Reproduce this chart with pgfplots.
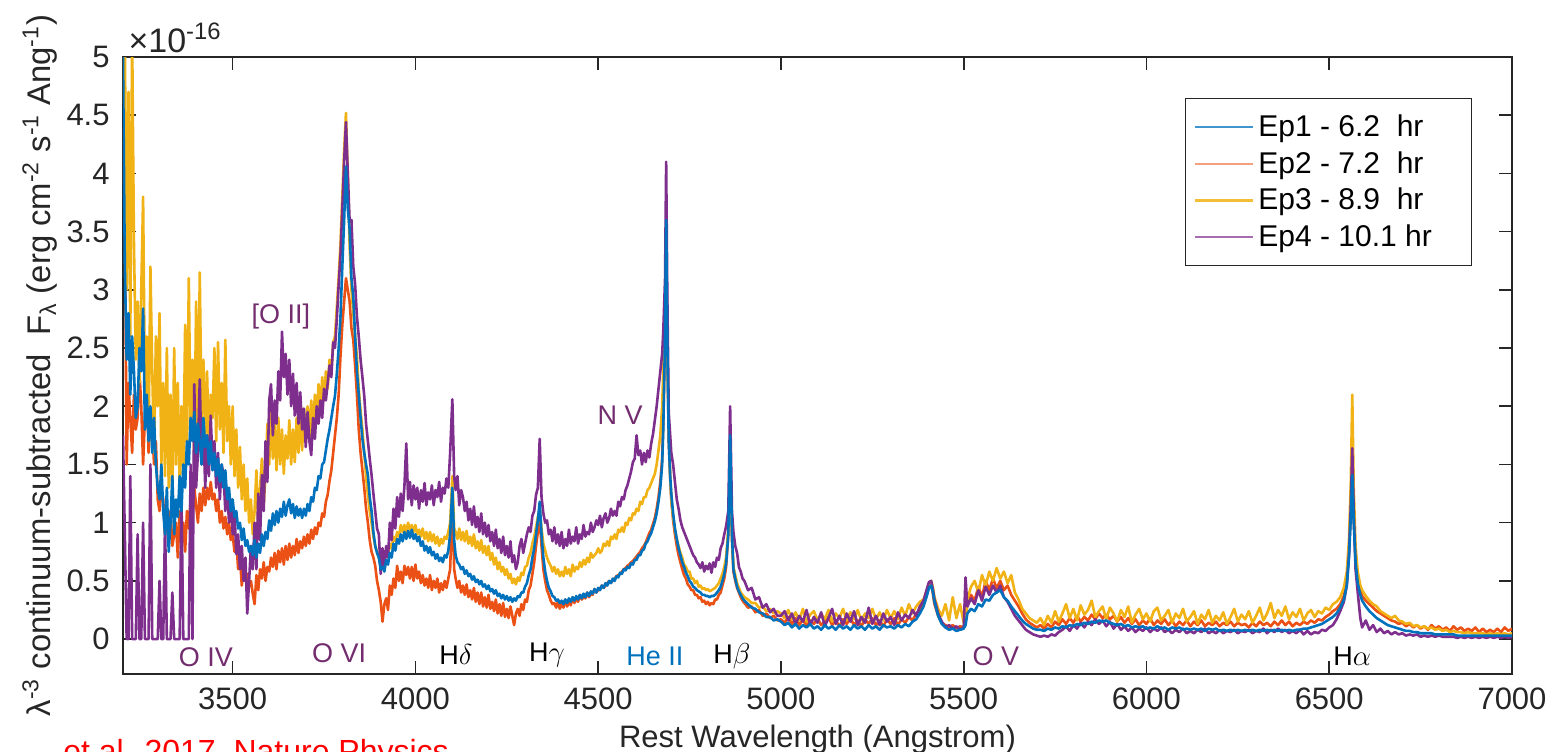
\documentclass[border=0pt]{standalone}
\usepackage{pgfplots}
\usepackage{pgfplotstable}
\usepackage{fontspec}
\setmainfont{Liberation Sans}
\pgfplotsset{compat=1.18}
\definecolor{cB}{RGB}{0,114,189}
\definecolor{cR}{RGB}{235,80,20}
\definecolor{cY}{RGB}{240,178,20}
\definecolor{cP}{RGB}{126,47,142}
\definecolor{annP}{RGB}{115,45,110}
\definecolor{axc}{RGB}{38,38,38}

\pgfplotstableread{
lam b r y p
3200 5.0 4.4 4.6 1.75
3205 3.2 3.7 5.2 0.9
3210 2.4 1.5 3.0 0.0
3215 2.8 2.2 4.7 0.0
3220 2.1 1.9 2.6 1.4
3225 2.6 1.6 5.2 0.0
3230 2.3 2.1 3.4 0.0
3235 1.9 1.8 2.4 0.0
3240 2.0 1.9 2.9 0.9
3245 2.5 2.3 2.2 0.0
3250 2.3 2.0 3.0 0.0
3255 2.84 1.5 3.8 1.0
3260 1.8 1.9 2.1 0.0
3265 2.1 2.2 2.6 0.0
3270 1.7 1.6 1.7 0.0
3275 2.0 1.9 3.2 1.5
3280 1.6 1.8 2.3 0.0
3285 1.9 1.5 1.6 0.0
3290 1.5 1.7 2.6 0.0
3295 1.3 1.2 2.0 0.0
3300 1.2 1.1 2.8 0.5
3305 1.5 1.3 1.5 0.0
3310 1.1 1.2 2.2 0.0
3315 0.9 0.9 1.4 1.0
3320 1.3 1.0 2.5 0.0
3325 0.75 0.9 1.3 0.0
3330 1.0 1.1 2.1 0.0
3335 1.4 0.8 1.2 0.4
3340 0.9 0.9 2.5 0.0
3345 1.2 1.0 1.5 0.0
3350 1.05 0.7 2.2 0.0
3355 1.4 1.1 1.3 0.0
3360 1.1 0.8 2.0 1.2
3365 1.5 1.0 1.4 0.0
3370 1.3 0.75 2.7 0.0
3375 1.7 1.1 1.6 0.0
3380 1.5 0.95 3.1 0.0
3385 1.9 1.2 1.8 1.5
3390 1.7 1.0 2.4 0.0
3395 1.95 1.3 1.5 2.19
3400 1.6 1.15 2.9 1.3
3405 1.85 1.0 1.7 1.6
3410 1.7 1.25 3.15 2.23
3415 1.5 1.1 1.9 1.5
3420 1.9 1.3 2.4 1.8
3425 1.65 1.15 1.7 1.3
3430 1.75 1.3 2.3 1.75
3435 1.5 1.2 1.6 1.4
3440 1.7 1.35 2.1 1.92
3445 1.45 1.2 1.9 1.5
3450 1.6 1.25 2.5 1.7
3455 1.4 1.1 1.7 1.3
3460 1.55 1.2 2.55 1.6
3465 1.35 1.0 1.8 1.2
3470 1.5 1.1 2.2 1.5
3475 1.3 0.95 1.6 1.41
3480 1.45 1.05 2.57 1.1
3485 1.2 0.9 1.7 1.3
3490 1.3 1.0 2.0 1.0
3495 1.1 0.85 1.5 1.2
3500 1.2 0.9 2.0 0.9
3505 1.05 0.75 1.4 1.1
3510 1.1 0.85 1.8 0.73
3515 0.95 0.6 1.3 0.9
3520 1.0 0.7 1.65 0.6
3525 0.85 0.46 1.2 0.8
3530 0.95 0.6 1.5 0.5
3535 0.8 0.5 1.1 0.7
3540 0.85 0.56 1.38 0.22
3545 0.75 0.45 1.0 0.5
3550 0.8 0.5 1.2 0.8
3555 0.72 0.39 0.9 0.6
3560 0.85 0.30 1.10 1.00
3565 0.70 0.55 1.45 0.60
3570 0.82 0.42 0.95 1.25
3575 0.74 0.60 1.30 0.85
3580 0.90 0.52 1.55 1.41
3585 0.80 0.66 1.15 1.10
3590 0.92 0.50 1.40 1.70
3595 0.86 0.62 1.85 1.35
3600 1.02 0.58 1.50 2.05
3605 0.93 0.70 1.95 2.19
3610 1.08 0.62 1.55 1.75
3615 0.98 0.74 1.85 2.05
3620 1.10 0.60 1.45 1.85
3625 1.00 0.76 1.90 2.30
3630 1.12 0.66 1.50 2.05
3635 1.05 0.78 1.80 2.64
3640 1.18 0.64 1.42 2.25
3645 1.06 0.80 1.75 2.45
3650 1.15 0.68 1.55 2.10
3655 1.20 0.82 1.88 2.40
3660 1.08 0.70 1.50 2.00
3665 1.16 0.80 1.80 2.28
3670 1.04 0.72 1.52 1.92
3675 1.14 0.86 1.90 2.20
3680 1.06 0.74 1.60 1.85
3685 1.12 0.84 1.95 2.12
3690 1.04 0.78 1.62 1.80
3695 1.12 0.88 1.98 1.98
3700 1.06 0.80 1.70 1.65
3705 1.16 0.90 2.00 1.95
3710 1.10 0.82 1.72 1.70
3715 1.22 0.94 2.05 1.58
3720 1.18 0.86 1.80 1.90
3725 1.30 0.96 2.10 1.72
3730 1.28 0.90 1.88 2.00
3735 1.40 1.00 2.19 1.85
3740 1.38 0.97 1.95 2.05
3745 1.50 1.08 2.25 1.90
3750 1.52 1.05 2.05 2.15
3755 1.62 1.18 2.30 2.05
3760 1.72 1.24 2.15 2.20
3765 1.80 1.36 2.40 2.35
3770 1.90 1.45 2.30 2.25
3775 2.00 1.60 2.55 2.55
3780 2.09 1.75 2.60 2.50
3785 2.28 1.90 2.85 2.75
3790 2.50 2.10 3.11 3.04
3795 2.77 2.43 3.40 3.30
3800 3.20 2.70 3.80 3.70
3805 3.60 2.90 4.20 4.10
3810 4.06 3.10 4.52 4.44
3815 3.70 3.00 4.00 4.00
3820 3.52 2.90 3.38 3.59
3825 3.10 2.67 3.00 3.60
3830 2.94 2.57 2.80 3.20
3835 2.60 2.35 2.60 3.05
3840 2.30 2.10 2.43 2.77
3845 2.10 1.80 2.15 2.60
3850 1.90 1.60 1.96 2.40
3855 1.72 1.45 1.80 2.25
3860 1.60 1.30 1.60 2.09
3865 1.50 1.12 1.40 1.85
3870 1.41 1.00 1.24 1.70
3875 1.22 0.85 1.10 1.55
3880 1.10 0.75 1.00 1.41
3885 0.92 0.70 0.88 1.25
3890 0.80 0.63 0.80 1.10
3895 0.74 0.50 0.75 0.95
3900 0.70 0.42 0.70 0.90
3905 0.60 0.32 0.63 0.56
3910 0.62 0.15 0.68 0.78
3915 0.58 0.30 0.72 0.62
3920 0.68 0.35 0.75 0.80
3925 0.64 0.25 0.70 0.70
3930 0.74 0.46 0.82 1.00
3935 0.70 0.38 0.78 0.85
3940 0.82 0.52 0.88 1.12
3945 0.76 0.44 0.84 0.95
3950 0.86 0.63 0.92 1.22
3955 0.82 0.50 0.88 1.05
3960 0.90 0.58 0.98 1.25
3965 0.84 0.48 0.92 1.10
3970 0.92 0.63 0.98 1.32
3975 0.86 0.55 0.92 1.68
3980 0.93 0.62 1.00 1.20
3985 0.87 0.52 0.94 1.35
3990 0.94 0.62 0.98 1.15
3995 0.86 0.50 0.92 1.32
4000 0.90 0.64 0.98 1.20
4005 0.84 0.52 0.90 1.30
4010 0.88 0.58 0.94 1.12
4015 0.80 0.48 0.88 1.28
4020 0.84 0.55 0.95 1.18
4025 0.76 0.46 0.86 1.34
4030 0.80 0.52 0.92 1.15
4035 0.74 0.44 0.84 1.26
4040 0.79 0.55 0.92 1.20
4045 0.72 0.42 0.84 1.32
4050 0.75 0.50 0.90 1.15
4055 0.69 0.44 0.82 1.28
4060 0.73 0.52 0.88 1.22
4065 0.67 0.40 0.80 1.35
4070 0.70 0.48 0.86 1.18
4075 0.66 0.42 0.82 1.30
4080 0.72 0.50 0.88 1.25
4085 0.70 0.44 0.86 1.38
4090 0.76 0.52 0.92 1.30
4095 0.90 0.60 1.00 1.60
4101 1.30 1.20 1.40 2.06
4106 0.85 0.60 0.95 1.40
4110 0.72 0.52 0.92 1.28
4115 0.66 0.44 0.86 1.40
4120 0.64 0.50 0.95 1.15
4125 0.60 0.40 0.85 1.28
4130 0.62 0.46 0.92 1.22
4135 0.56 0.38 0.84 1.10
4140 0.59 0.47 0.93 1.18
4145 0.54 0.36 0.82 1.02
4150 0.56 0.42 0.88 1.12
4155 0.51 0.34 0.80 0.98
4160 0.54 0.44 0.90 1.14
4165 0.49 0.32 0.78 0.96
4170 0.51 0.40 0.84 1.05
4175 0.47 0.30 0.76 0.92
4180 0.50 0.40 0.85 1.08
4185 0.45 0.28 0.74 0.90
4190 0.47 0.36 0.80 1.00
4195 0.43 0.27 0.72 0.88
4200 0.46 0.38 0.80 0.98
4205 0.41 0.26 0.68 0.84
4210 0.43 0.32 0.74 0.92
4215 0.39 0.24 0.64 0.80
4220 0.42 0.34 0.70 0.94
4225 0.37 0.22 0.60 0.78
4230 0.39 0.30 0.66 0.86
4235 0.35 0.20 0.58 0.74
4240 0.38 0.31 0.62 0.88
4245 0.34 0.19 0.55 0.72
4250 0.37 0.26 0.60 0.80
4255 0.33 0.18 0.52 0.70
4260 0.36 0.28 0.56 0.84
4265 0.32 0.20 0.48 0.66
4270 0.35 0.12 0.52 0.72
4275 0.33 0.22 0.47 0.60
4280 0.37 0.26 0.53 0.66
4285 0.36 0.20 0.50 0.80
4290 0.40 0.30 0.57 0.86
4295 0.40 0.25 0.55 0.74
4300 0.45 0.34 0.62 0.82
4305 0.48 0.32 0.63 0.90
4310 0.55 0.42 0.70 0.96
4315 0.60 0.46 0.74 0.92
4320 0.70 0.56 0.82 1.06
4325 0.78 0.66 0.88 1.10
4330 0.90 0.80 0.96 1.24
4335 1.02 0.92 1.05 1.30
4340 1.18 1.05 1.12 1.72
4345 0.90 0.80 0.95 1.22
4350 0.70 0.60 0.82 1.08
4355 0.58 0.50 0.76 1.00
4360 0.50 0.42 0.70 1.02
4365 0.44 0.38 0.66 0.90
4370 0.41 0.33 0.63 0.94
4375 0.37 0.30 0.58 0.84
4380 0.36 0.31 0.62 0.96
4385 0.33 0.27 0.56 0.82
4390 0.34 0.32 0.60 0.90
4395 0.31 0.26 0.54 0.80
4400 0.33 0.30 0.58 0.92
4405 0.30 0.27 0.54 0.78
4410 0.34 0.34 0.62 0.86
4415 0.31 0.28 0.56 0.80
4420 0.35 0.32 0.60 0.94
4425 0.32 0.29 0.54 0.82
4430 0.36 0.36 0.64 0.88
4435 0.33 0.31 0.58 0.84
4440 0.37 0.35 0.62 0.96
4445 0.34 0.32 0.60 0.82
4450 0.38 0.38 0.66 0.90
4455 0.35 0.34 0.62 0.86
4460 0.39 0.36 0.68 0.98
4465 0.36 0.35 0.64 0.88
4470 0.40 0.40 0.70 0.92
4475 0.37 0.36 0.66 0.90
4480 0.41 0.39 0.74 1.00
4485 0.39 0.38 0.70 0.92
4490 0.43 0.43 0.72 0.96
4495 0.40 0.40 0.74 1.02
4500 0.44 0.42 0.78 0.98
4505 0.42 0.43 0.74 1.06
4510 0.46 0.46 0.76 0.96
4515 0.44 0.44 0.82 1.04
4520 0.48 0.46 0.80 1.08
4525 0.46 0.48 0.84 1.00
4530 0.50 0.50 0.80 1.04
4535 0.48 0.49 0.88 1.12
4540 0.52 0.50 0.86 1.06
4545 0.50 0.52 0.90 1.10
4550 0.54 0.54 0.86 1.06
4555 0.53 0.55 0.94 1.18
4560 0.57 0.56 0.92 1.14
4565 0.56 0.58 0.96 1.22
4570 0.60 0.60 0.92 1.20
4575 0.59 0.61 1.00 1.28
4580 0.62 0.63 0.98 1.32
4585 0.61 0.64 1.04 1.38
4590 0.65 0.66 1.02 1.44
4595 0.64 0.67 1.08 1.52
4600 0.68 0.69 1.07 1.55
4605 0.68 0.71 1.12 1.75
4610 0.72 0.73 1.10 1.58
4615 0.72 0.75 1.18 1.62
4620 0.76 0.78 1.16 1.50
4625 0.77 0.80 1.22 1.60
4630 0.82 0.83 1.22 1.52
4635 0.84 0.87 1.28 1.62
4640 0.88 0.91 1.30 1.56
4645 0.91 0.94 1.34 1.68
4650 0.96 0.99 1.38 1.76
4655 1.01 1.04 1.42 1.88
4660 1.08 1.12 1.50 2.00
4665 1.18 1.22 1.62 2.15
4670 1.30 1.35 1.75 2.30
4675 1.50 1.55 2.00 2.45
4678 1.80 1.85 2.30 2.64
4683 2.60 2.60 2.90 3.10
4686 3.60 3.40 3.30 4.10
4689 2.60 2.50 2.60 3.00
4693 1.70 1.70 1.80 1.95
4697 1.40 1.38 1.40 1.75
4700 1.25 1.20 1.20 1.60
4705 1.08 1.02 1.05 1.50
4710 0.95 0.90 0.94 1.35
4715 0.86 0.80 0.86 1.20
4720 0.78 0.72 0.80 1.12
4725 0.72 0.66 0.74 1.02
4730 0.66 0.60 0.70 0.96
4735 0.62 0.55 0.64 0.92
4740 0.57 0.52 0.62 0.88
4745 0.54 0.47 0.58 0.84
4750 0.50 0.45 0.58 0.80
4755 0.48 0.42 0.52 0.76
4760 0.45 0.42 0.52 0.72
4765 0.44 0.38 0.48 0.70
4770 0.42 0.38 0.50 0.66
4775 0.41 0.35 0.45 0.64
4780 0.40 0.36 0.46 0.61
4785 0.38 0.32 0.43 0.66
4790 0.38 0.33 0.44 0.58
4795 0.37 0.30 0.42 0.63
4800 0.37 0.32 0.43 0.60
4805 0.36 0.29 0.41 0.65
4810 0.37 0.31 0.42 0.57
4815 0.37 0.30 0.43 0.66
4820 0.38 0.34 0.44 0.62
4825 0.40 0.34 0.46 0.70
4830 0.42 0.38 0.48 0.68
4835 0.45 0.40 0.52 0.78
4840 0.50 0.46 0.56 0.82
4845 0.56 0.52 0.62 0.90
4850 0.65 0.62 0.70 0.97
4856 0.90 0.90 0.95 1.10
4861 1.75 1.60 1.50 2.00
4866 0.90 0.85 0.90 1.10
4870 0.60 0.58 0.62 0.92
4875 0.52 0.50 0.55 0.80
4880 0.45 0.44 0.48 0.74
4885 0.41 0.40 0.44 0.62
4890 0.38 0.36 0.40 0.58
4895 0.35 0.33 0.38 0.52
4900 0.33 0.31 0.36 0.50
4910 0.30 0.27 0.34 0.42
4920 0.27 0.28 0.31 0.44
4930 0.26 0.23 0.31 0.34
4940 0.23 0.25 0.27 0.36
4950 0.22 0.20 0.28 0.27
4960 0.19 0.22 0.24 0.30
4970 0.19 0.18 0.26 0.23
4980 0.16 0.20 0.22 0.26
4990 0.17 0.16 0.24 0.20
5000 0.15 0.17 0.22 0.20
5010 0.12 0.14 0.18 0.24
5020 0.14 0.19 0.25 0.16
5030 0.10 0.13 0.17 0.22
5040 0.13 0.18 0.23 0.13
5050 0.09 0.12 0.16 0.20
5060 0.12 0.17 0.26 0.15
5070 0.10 0.11 0.15 0.25
5080 0.13 0.16 0.21 0.12
5090 0.09 0.13 0.24 0.19
5100 0.11 0.18 0.16 0.14
5110 0.08 0.12 0.22 0.23
5120 0.12 0.15 0.17 0.11
5130 0.09 0.19 0.25 0.18
5140 0.11 0.12 0.15 0.26
5150 0.08 0.16 0.22 0.13
5160 0.12 0.11 0.18 0.20
5170 0.09 0.17 0.26 0.12
5180 0.11 0.13 0.16 0.22
5190 0.08 0.18 0.23 0.15
5200 0.12 0.12 0.17 0.24
5210 0.09 0.16 0.25 0.12
5220 0.11 0.11 0.16 0.19
5230 0.08 0.17 0.22 0.14
5240 0.12 0.13 0.18 0.27
5250 0.09 0.18 0.26 0.13
5260 0.11 0.12 0.17 0.20
5270 0.08 0.16 0.23 0.12
5280 0.12 0.11 0.16 0.22
5290 0.10 0.17 0.25 0.15
5300 0.11 0.13 0.18 0.19
5310 0.09 0.18 0.24 0.12
5320 0.12 0.12 0.17 0.23
5330 0.10 0.17 0.27 0.16
5340 0.13 0.14 0.20 0.21
5350 0.11 0.19 0.30 0.18
5360 0.15 0.16 0.22 0.25
5370 0.17 0.22 0.28 0.20
5380 0.22 0.25 0.32 0.28
5390 0.28 0.30 0.34 0.33
5400 0.38 0.40 0.42 0.44
5405 0.44 0.45 0.47 0.49
5411 0.46 0.48 0.50 0.50
5416 0.40 0.38 0.44 0.42
5420 0.32 0.30 0.36 0.34
5430 0.20 0.20 0.26 0.22
5440 0.13 0.14 0.20 0.15
5450 0.10 0.12 0.30 0.10
5460 0.08 0.10 0.16 0.12
5470 0.09 0.12 0.36 0.09
5480 0.07 0.09 0.18 0.11
5490 0.08 0.11 0.30 0.08
5500 0.09 0.10 0.14 0.10
5505 0.12 0.14 0.16 0.53
5510 0.22 0.30 0.34 0.28
5520 0.26 0.38 0.45 0.35
5530 0.24 0.33 0.50 0.30
5540 0.30 0.45 0.40 0.42
5550 0.28 0.36 0.55 0.33
5560 0.34 0.50 0.46 0.45
5570 0.33 0.42 0.58 0.38
5580 0.38 0.52 0.50 0.46
5590 0.40 0.44 0.61 0.40
5600 0.42 0.50 0.52 0.46
5610 0.36 0.42 0.58 0.36
5620 0.33 0.46 0.48 0.32
5630 0.28 0.38 0.55 0.26
5640 0.24 0.33 0.40 0.20
5650 0.20 0.28 0.34 0.16
5660 0.16 0.22 0.26 0.12
5670 0.13 0.17 0.22 0.08
5680 0.11 0.14 0.18 0.06
5690 0.09 0.12 0.16 0.04
5700 0.08 0.10 0.14 0.03
5710 0.08 0.12 0.18 0.02
5720 0.07 0.09 0.12 0.03
5730 0.09 0.13 0.20 0.02
5740 0.08 0.10 0.14 0.04
5750 0.10 0.15 0.24 0.03
5760 0.09 0.12 0.15 0.06
5770 0.11 0.17 0.22 0.08
5780 0.10 0.13 0.30 0.11
5790 0.12 0.18 0.18 0.07
5800 0.11 0.14 0.26 0.12
5810 0.13 0.20 0.16 0.09
5820 0.12 0.15 0.29 0.14
5830 0.14 0.19 0.21 0.10
5840 0.13 0.16 0.25 0.15
5850 0.15 0.21 0.33 0.12
5860 0.14 0.17 0.19 0.17
5870 0.16 0.22 0.24 0.13
5880 0.15 0.18 0.28 0.16
5890 0.16 0.21 0.17 0.11
5900 0.14 0.17 0.27 0.15
5910 0.13 0.20 0.22 0.09
5920 0.12 0.15 0.15 0.13
5930 0.13 0.19 0.25 0.08
5940 0.11 0.14 0.19 0.11
5950 0.12 0.18 0.28 0.07
5960 0.10 0.13 0.14 0.10
5970 0.11 0.17 0.21 0.06
5980 0.10 0.12 0.26 0.09
5990 0.11 0.16 0.17 0.07
6000 0.09 0.13 0.22 0.10
6010 0.10 0.18 0.15 0.06
6020 0.09 0.12 0.24 0.09
6030 0.11 0.16 0.27 0.07
6040 0.09 0.13 0.16 0.10
6050 0.10 0.17 0.20 0.06
6060 0.08 0.12 0.25 0.08
6070 0.10 0.16 0.14 0.05
6080 0.09 0.11 0.22 0.08
6090 0.10 0.15 0.18 0.06
6100 0.08 0.12 0.26 0.09
6110 0.09 0.16 0.15 0.05
6120 0.08 0.11 0.19 0.07
6130 0.09 0.15 0.24 0.05
6140 0.08 0.12 0.13 0.08
6150 0.09 0.16 0.21 0.06
6160 0.07 0.11 0.17 0.09
6170 0.09 0.14 0.25 0.05
6180 0.08 0.12 0.14 0.07
6190 0.09 0.15 0.20 0.05
6200 0.07 0.11 0.16 0.08
6210 0.08 0.14 0.23 0.05
6220 0.07 0.12 0.13 0.07
6230 0.08 0.15 0.19 0.06
6240 0.07 0.11 0.26 0.08
6250 0.08 0.14 0.15 0.05
6260 0.07 0.12 0.21 0.07
6270 0.08 0.13 0.17 0.06
6280 0.07 0.10 0.24 0.08
6290 0.08 0.14 0.14 0.05
6300 0.07 0.11 0.20 0.07
6310 0.08 0.15 0.27 0.06
6320 0.07 0.12 0.16 0.09
6330 0.08 0.14 0.22 0.05
6340 0.07 0.11 0.31 0.08
6350 0.08 0.15 0.18 0.06
6360 0.07 0.12 0.25 0.09
6370 0.08 0.16 0.20 0.06
6380 0.07 0.12 0.28 0.08
6390 0.08 0.15 0.17 0.05
6400 0.07 0.11 0.23 0.07
6410 0.08 0.14 0.19 0.05
6420 0.08 0.12 0.26 0.08
6430 0.09 0.15 0.16 0.04
6440 0.09 0.13 0.22 0.07
6450 0.10 0.16 0.25 0.04
6460 0.11 0.14 0.19 0.06
6470 0.12 0.17 0.24 0.05
6480 0.13 0.16 0.22 0.08
6490 0.15 0.19 0.27 0.07
6500 0.17 0.21 0.25 0.10
6510 0.19 0.24 0.30 0.12
6520 0.22 0.26 0.32 0.17
6530 0.27 0.30 0.36 0.24
6540 0.34 0.37 0.44 0.32
6548 0.46 0.50 0.58 0.46
6554 0.70 0.75 0.85 0.72
6559 1.05 1.10 1.35 1.15
6563 1.41 1.50 2.10 1.64
6567 1.00 1.05 1.30 1.10
6572 0.66 0.70 0.80 0.60
6578 0.48 0.52 0.58 0.40
6585 0.38 0.42 0.46 0.18
6590 0.33 0.37 0.42 0.10
6600 0.28 0.33 0.37 0.16
6610 0.24 0.30 0.33 0.08
6620 0.21 0.27 0.30 0.12
6630 0.18 0.24 0.28 0.06
6640 0.16 0.22 0.24 0.09
6650 0.14 0.20 0.22 0.05
6660 0.12 0.18 0.20 0.07
6670 0.11 0.16 0.18 0.04
6680 0.10 0.15 0.20 0.06
6690 0.09 0.13 0.16 0.04
6700 0.08 0.14 0.15 0.05
6710 0.07 0.11 0.13 0.03
6720 0.07 0.13 0.14 0.04
6730 0.06 0.10 0.11 0.03
6740 0.06 0.12 0.12 0.04
6750 0.05 0.09 0.10 0.02
6760 0.05 0.11 0.11 0.03
6770 0.05 0.08 0.09 0.02
6780 0.05 0.12 0.10 0.03
6790 0.04 0.09 0.08 0.02
6800 0.04 0.11 0.09 0.03
6810 0.04 0.08 0.07 0.02
6820 0.04 0.10 0.08 0.02
6830 0.04 0.07 0.06 0.02
6840 0.04 0.11 0.07 0.02
6850 0.03 0.08 0.06 0.01
6860 0.03 0.10 0.06 0.02
6870 0.03 0.07 0.05 0.01
6880 0.03 0.09 0.06 0.02
6890 0.03 0.07 0.05 0.01
6900 0.03 0.10 0.05 0.02
6910 0.03 0.06 0.05 0.01
6920 0.03 0.09 0.05 0.02
6930 0.03 0.06 0.04 0.01
6940 0.03 0.08 0.05 0.02
6950 0.03 0.06 0.04 0.01
6960 0.03 0.09 0.05 0.02
6970 0.03 0.06 0.04 0.01
6980 0.03 0.10 0.05 0.02
6990 0.03 0.07 0.04 0.01
7000 0.03 0.09 0.05 0.02
}\spec

\newcommand{\fs}{\fontsize{15.5}{18}\selectfont}
\newcommand{\fa}{\fontsize{13.5}{16}\selectfont}

\begin{document}
\begin{tikzpicture}
\begin{axis}[
  at={(0,0)}, anchor=south west,
  width=694.5pt, height=308.5pt, scale only axis,
  xmin=3200, xmax=7000, ymin=-0.3, ymax=5,
  xtick={3500,4000,...,7000},
  ytick={0,0.5,1,1.5,2,2.5,3,3.5,4,4.5,5},
  scaled ticks=false,
  /pgf/number format/1000 sep={},
  /pgf/number format/assume math mode=true,
  tick align=inside,
  major tick length=6.5pt,
  axis line style={draw=axc, line width=0.8pt},
  every tick/.style={draw=axc, line width=0.8pt},
  ticklabel style={font=\fs, text=axc},
  xticklabel style={anchor=base, yshift=-17.5pt, inner sep=0pt},
  yticklabel style={anchor=east, xshift=-6.5pt, inner sep=0pt},
  xlabel={Rest Wavelength (Angstrom)},
  xlabel style={font=\fs, text=axc, at={(axis description cs:0.5,0)}, anchor=base, yshift=-36.5pt, inner sep=0pt},
  ylabel={λ\textsuperscript{-3} continuum-subtracted~~F\textsubscript{λ} (erg cm\textsuperscript{-2} s\textsuperscript{-1} Ang\textsuperscript{-1})},
  ylabel style={font=\fontsize{16.4}{19}\selectfont, text=axc, at={(axis description cs:-0.0597,0.5)}, anchor=center, inner sep=0pt},
  legend style={at={(rel axis cs:0.9712,0.9335)}, anchor=north east,
    draw=axc, line width=0.6pt, font=\fontsize{15}{18}\selectfont,
    inner xsep=4.5pt, inner ysep=6pt, row sep=2pt, cells={anchor=west}},
  legend image code/.code={\draw[#1, line width=1.1pt] (0pt,0pt) -- (29pt,0pt);},
  clip mode=individual,
]
\addplot[cR, line width=1.3pt, line join=round, forget plot] table[x=lam,y=r]{\spec};
\addplot[cY, line width=1.3pt, line join=round, forget plot] table[x=lam,y=y]{\spec};
\addplot[cP, line width=1.3pt, line join=round, forget plot] table[x=lam,y=p]{\spec};
\addplot[cB, line width=1.3pt, line join=round, forget plot] table[x=lam,y=b]{\spec};
\addlegendimage{cB!75!white}
\addlegendentry{\makebox[100pt][l]{Ep1 - 6.2~~hr}}
\addlegendimage{cR!55!white}
\addlegendentry{\makebox[100pt][l]{Ep2 - 7.2~~hr}}
\addlegendimage{cY!85!white}
\addlegendentry{\makebox[100pt][l]{Ep3 - 8.9~~hr}}
\addlegendimage{cP!70!white}
\addlegendentry{\makebox[100pt][l]{Ep4 - 10.1 hr}}

\node[font=\fa, text=annP] at (axis cs:3427,-0.155) {O IV};
\node[font=\fa, text=annP] at (axis cs:3791,-0.12) {O VI};
\node[font=\fa, text=black] at (axis cs:4111,-0.13) {H$\delta$};
\node[font=\fa, text=black] at (axis cs:4360,-0.14) {H$\gamma$};
\node[font=\fa, text=cB] at (axis cs:4655,-0.15) {He II};
\node[font=\fa, text=black] at (axis cs:4866,-0.15) {H$\beta$};
\node[font=\fa, text=annP] at (axis cs:5588,-0.15) {O V};
\node[font=\fa, text=black] at (axis cs:6563,-0.15) {H$\alpha$};
\node[font=\fa, text=annP] at (axis cs:3632,2.77) {[O II]};
\node[font=\fa, text=annP] at (axis cs:4560,1.92) {N V};
\node[font=\fontsize{17}{20}\selectfont, text=axc, anchor=base west, inner sep=0pt] at (axis cs:3214,5.04) {×10\textsuperscript{-16}};
\end{axis}
\begin{scope}
\clip (-61.5pt,-38.5pt) rectangle (715.5pt,337pt);
\node[font=\fontsize{16}{19}\selectfont, text=red, anchor=base west, inner sep=0pt] at (-30pt,-44pt) {et al. 2017, Nature Physics};
\end{scope}
\pgfresetboundingbox
\useasboundingbox (-61.5pt,-38.5pt) rectangle (715.5pt,337pt);
\end{tikzpicture}
\end{document}
